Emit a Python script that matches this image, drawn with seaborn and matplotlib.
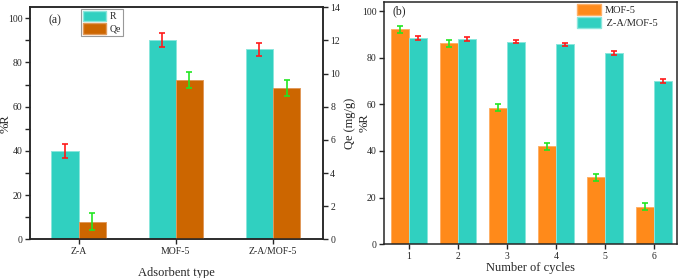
import numpy as np
import pandas as pd
import matplotlib
matplotlib.use("Agg")
import matplotlib.pyplot as plt
import matplotlib.patches as mpatches
from matplotlib.ticker import MultipleLocator
import seaborn as sns

# ---------------- data ----------------
adsorbents = ["Z-A", "MOF-5", "Z-A/MOF-5"]
removal_R = [40.0, 90.2, 86.0]          # %R (left axis)
removal_R_err = [3.0, 3.0, 3.0]
qe_vals = [1.06, 9.6, 9.13]             # Qe mg/g (right axis)
qe_err = [0.5, 0.5, 0.5]

cycles = ["1", "2", "3", "4", "5", "6"]
mof5_R = [92.1, 86.1, 58.6, 42.1, 28.8, 16.0]
mof5_err = [1.5, 1.5, 1.5, 1.5, 1.5, 1.5]
zamof_R = [88.3, 88.0, 86.9, 85.7, 82.1, 70.1]
zamof_err = [0.8, 0.8, 0.8, 0.8, 0.8, 0.8]

# ---------------- style ----------------
sns.set_style("ticks")
plt.rcParams["font.family"] = ["Liberation Serif", "DejaVu Serif"]
plt.rcParams["axes.linewidth"] = 1.1

TEAL = "#30D0C0"
TEAL_EDGE = "#8AE6DC"
DORANGE = "#CC6600"
DORANGE_EDGE = "#E0995A"
ORANGE = "#FF8A1A"
ORANGE_EDGE = "#FFB066"
RED = "#FF1A1A"
GREEN = "#22E622"

fig = plt.figure(figsize=(6.81, 2.78), dpi=100)
axA = fig.add_axes([0.044, 0.139, 0.4296, 0.835])
axA2 = axA.twinx()
axB = fig.add_axes([0.5639, 0.1212, 0.4307, 0.8727])

# ---------------- panel (a) ----------------
dfR = pd.DataFrame({"Adsorbent": adsorbents, "value": removal_R, "Series": "R"})
dfQ = pd.DataFrame({"Adsorbent": adsorbents, "value": qe_vals, "Series": "Qe"})
hue_a = ["R", "Qe"]
sns.barplot(data=dfR, x="Adsorbent", y="value", hue="Series", hue_order=hue_a,
            order=adsorbents, palette={"R": TEAL, "Qe": DORANGE}, width=0.56,
            dodge=True, ax=axA, legend=False, saturation=1,
            edgecolor=TEAL_EDGE, linewidth=0.7)
sns.barplot(data=dfQ, x="Adsorbent", y="value", hue="Series", hue_order=hue_a,
            order=adsorbents, palette={"R": TEAL, "Qe": DORANGE}, width=0.56,
            dodge=True, ax=axA2, legend=False, saturation=1,
            edgecolor=DORANGE_EDGE, linewidth=0.7)

def centers(ax):
    ps = [p for p in ax.patches if p.get_height() > 0]
    ps.sort(key=lambda p: p.get_x())
    return [p.get_x() + p.get_width() / 2 for p in ps]

axA.errorbar(centers(axA), removal_R, yerr=removal_R_err, fmt="none",
             ecolor=RED, elinewidth=1.2, capsize=2.2, capthick=1.2, zorder=5)
axA2.errorbar(centers(axA2), qe_vals, yerr=qe_err, fmt="none",
              ecolor=GREEN, elinewidth=1.2, capsize=2.2, capthick=1.2, zorder=5)

axA.set_xlim(-0.5, 2.51)
axA.set_ylim(0, 105)
axA2.set_ylim(0, 14)
axA.yaxis.set_major_locator(MultipleLocator(20))
axA.yaxis.set_minor_locator(MultipleLocator(10))
axA2.yaxis.set_major_locator(MultipleLocator(2))
axA.set_xlabel("Adsorbent type", fontsize=9, labelpad=8)
axA.set_ylabel("%R", fontsize=9)
axA.yaxis.set_label_coords(-0.062, 0.5)
axA2.set_ylabel("Qe (mg/g)", fontsize=9)
axA2.yaxis.set_label_coords(1.073, 0.5)
axA2.set_xlabel("")
for a in (axA, axA2):
    a.tick_params(axis="both", labelsize=7, length=3.5, width=1.0, pad=2)
axA.tick_params(axis="y", which="minor", length=3.5, width=1.0)
axA.text(0.062, 0.945, "(a)", transform=axA.transAxes, fontsize=8.5,
         ha="left", va="center")
legA = axA2.legend(handles=[mpatches.Patch(facecolor=TEAL, edgecolor=TEAL_EDGE, label="R"),
                            mpatches.Patch(facecolor=DORANGE, edgecolor=DORANGE_EDGE, label="Qe")],
                   loc="upper left", bbox_to_anchor=(0.175, 0.993), fontsize=7,
                   frameon=True, fancybox=False, edgecolor="#999999", framealpha=1,
                   borderpad=0.2, labelspacing=0.2, handlelength=2.4,
                   handleheight=1.3, handletextpad=0.3, borderaxespad=0)
legA.get_frame().set_linewidth(0.8)
for s in ("top", "right"):
    axA.spines[s].set_visible(True)
    axA2.spines[s].set_visible(True)

# ---------------- panel (b) ----------------
dfB = pd.DataFrame({
    "Cycle": cycles * 2,
    "value": mof5_R + zamof_R,
    "Material": ["MOF-5"] * len(cycles) + ["Z-A/MOF-5"] * len(cycles),
})
hue_b = ["MOF-5", "Z-A/MOF-5"]
sns.barplot(data=dfB, x="Cycle", y="value", hue="Material", hue_order=hue_b,
            order=cycles, palette={"MOF-5": ORANGE, "Z-A/MOF-5": TEAL},
            width=0.72, ax=axB, legend=False, saturation=1, linewidth=0.7)
for cont, ec in zip(axB.containers, [ORANGE_EDGE, TEAL_EDGE]):
    for p in cont:
        p.set_edgecolor(ec)
c0 = [p.get_x() + p.get_width() / 2 for p in axB.containers[0]]
c1 = [p.get_x() + p.get_width() / 2 for p in axB.containers[1]]
axB.errorbar(c0, mof5_R, yerr=mof5_err, fmt="none", ecolor=GREEN,
             elinewidth=1.2, capsize=2.2, capthick=1.2, zorder=5)
axB.errorbar(c1, zamof_R, yerr=zamof_err, fmt="none", ecolor=RED,
             elinewidth=1.2, capsize=2.2, capthick=1.2, zorder=5)
axB.set_xlim(-0.51, 5.475)
axB.set_ylim(0, 104)
axB.yaxis.set_major_locator(MultipleLocator(20))
axB.set_xlabel("Number of cycles", fontsize=9, labelpad=1)
axB.set_ylabel("%R", fontsize=9)
axB.yaxis.set_label_coords(-0.047, 0.5)
axB.tick_params(axis="both", labelsize=7, length=3.5, width=1.0, pad=2)
axB.text(0.03, 0.962, "(b)", transform=axB.transAxes, fontsize=8.5,
         ha="left", va="center")
for s in ("top", "right"):
    axB.spines[s].set_visible(True)
axB.legend(handles=[mpatches.Patch(facecolor=ORANGE, edgecolor=ORANGE_EDGE, label="MOF-5"),
                    mpatches.Patch(facecolor=TEAL, edgecolor=TEAL_EDGE, label=" Z-A/MOF-5")],
           loc="upper left", bbox_to_anchor=(0.655, 0.993), fontsize=7.5,
           frameon=False, borderpad=0.1, labelspacing=0.15, handlelength=2.3,
           handleheight=1.2, handletextpad=0.3, borderaxespad=0)

fig.savefig("out.png", dpi=100)
